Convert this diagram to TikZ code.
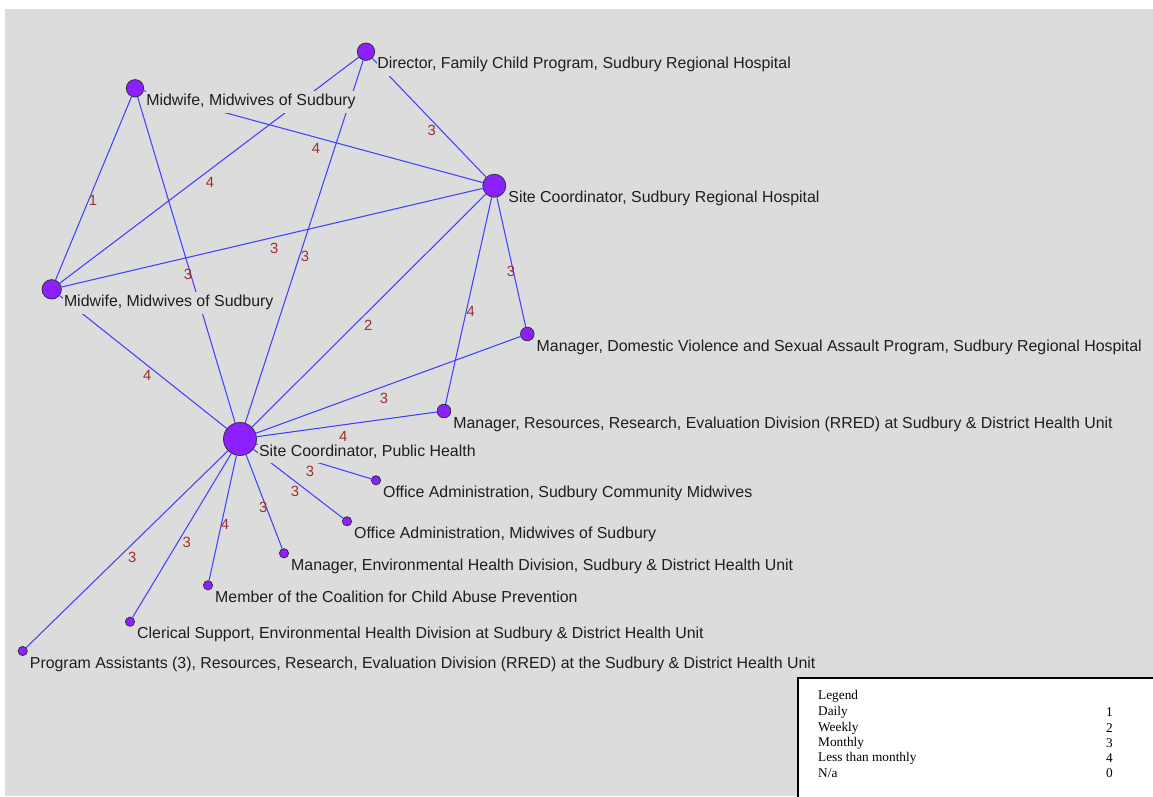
\documentclass[tikz,border=0pt]{standalone}
\usepackage{fontspec}
\setmainfont{Liberation Sans}
\newfontfamily\legendfont{Liberation Serif}
\definecolor{bg}{RGB}{220,220,220}
\definecolor{nodefill}{RGB}{140,32,255}
\definecolor{linkblue}{RGB}{64,64,255}
\definecolor{labred}{RGB}{160,45,45}
\definecolor{txt}{RGB}{30,30,30}
\begin{document}
\begin{tikzpicture}[x=1pt,y=-1pt,
  vert/.style={circle, draw=black!80, line width=0.8pt, fill=nodefill, inner sep=0pt, minimum size=#1},
  link/.style={draw=linkblue, line width=1.05pt},
  elab/.style={text=labred, font=\fontsize{14.8}{16}\selectfont, inner sep=0pt},
  nlab/.style={anchor=west, fill=bg, inner xsep=0.8pt, inner ysep=3.5pt, text height=11.5pt, text depth=3.5pt, font=\fontsize{15.9}{17}\selectfont, text=txt},
  lgd/.style={anchor=west, inner sep=0pt, font=\legendfont\fontsize{13.3}{15}\selectfont, text=black}]
\useasboundingbox (0,0) rectangle (1153,796);
\fill[white] (0,0) rectangle (1153,796);
\fill[bg] (5,9) rectangle (1153,796);

% vertices
\node[vert=17.4pt] (D) at (366,51.7) {};
\node[vert=17.4pt] (M1) at (135,88.3) {};
\node[vert=23pt] (S) at (494.3,185.7) {};
\node[vert=19.4pt] (M2) at (51.7,289.3) {};
\node[vert=13.6pt] (DV) at (527.3,334) {};
\node[vert=13.6pt] (RR) at (444,411) {};
\node[vert=33pt] (P) at (240,439) {};
\node[vert=9.2pt] (OA1) at (376,480.3) {};
\node[vert=9.2pt] (OA2) at (347,521.3) {};
\node[vert=9.2pt] (ME) at (284,553.3) {};
\node[vert=9.2pt] (MC) at (208,585.3) {};
\node[vert=9.2pt] (CS) at (130,621.7) {};
\node[vert=9.2pt] (PA) at (22.7,651) {};

% links
\draw[link] (M1) -- (M2);
\draw[link] (M1) -- (P);
\draw[link] (M2) -- (D);
\draw[link] (M1) -- (S);
\draw[link] (D) -- (S);
\draw[link] (D) -- (P);
\draw[link] (M2) -- (S);
\draw[link] (M2) -- (P);
\draw[link] (S) -- (P);
\draw[link] (S) -- (RR);
\draw[link] (S) -- (DV);
\draw[link] (P) -- (DV);
\draw[link] (P) -- (RR);
\draw[link] (P) -- (OA1);
\draw[link] (P) -- (OA2);
\draw[link] (P) -- (ME);
\draw[link] (P) -- (MC);
\draw[link] (P) -- (CS);
\draw[link] (P) -- (PA);

% link labels
\node[elab] (e1) at (93,200) {1};
\node[elab] (e2) at (188,274.5) {3};
\node[elab] (e3) at (210,182) {4};
\node[elab] (e4) at (316,148) {4};
\node[elab] (e5) at (431.7,130) {3};
\node[elab] (e6) at (305,256) {3};
\node[elab] (e7) at (274.3,248) {3};
\node[elab] (e8) at (147.3,375) {4};
\node[elab] (e9) at (368.3,325) {2};
\node[elab] (e10) at (470.7,311) {4};
\node[elab] (e11) at (511,271.5) {3};
\node[elab] (e12) at (384,398) {3};
\node[elab] (e13) at (343.3,436) {4};
\node[elab] (e14) at (310,471) {3};
\node[elab] (e15) at (295,491.5) {3};
\node[elab] (e16) at (263.3,507.5) {3};
\node[elab] (e17) at (225,524) {4};
\node[elab] (e18) at (186.7,542) {3};
\node[elab] (e19) at (132.3,557) {3};

% vertex labels
\node[nlab] (Dl) at (376.3,64.9) {Director, Family Child Program, Sudbury Regional Hospital};
\node[nlab] (M1l) at (145.3,101.5) {Midwife, Midwives of Sudbury};
\node[nlab] (Sl) at (507.4,198.9) {Site Coordinator, Sudbury Regional Hospital};
\node[nlab] (M2l) at (63,302.5) {Midwife, Midwives of Sudbury};
\node[nlab] (DVl) at (535.7,347.2) {Manager, Domestic Violence and Sexual Assault Program, Sudbury Regional Hospital};
\node[nlab] (RRl) at (452.4,424.2) {Manager, Resources, Research, Evaluation Division (RRED) at Sudbury \& District Health Unit};
\node[nlab] (Pl) at (258.1,452.2) {Site Coordinator, Public Health};
\node[nlab] (OA1l) at (382.2,493.5) {Office Administration, Sudbury Community Midwives};
\node[nlab] (OA2l) at (353.2,534.5) {Office Administration, Midwives of Sudbury};
\node[nlab] (MEl) at (290.2,566.5) {Manager, Environmental Health Division, Sudbury \& District Health Unit};
\node[nlab] (MCl) at (214.2,598.5) {Member of the Coalition for Child Abuse Prevention};
\node[nlab] (CSl) at (136.2,634.9) {Clerical Support, Environmental Health Division at Sudbury \& District Health Unit};
\node[nlab] (PAl) at (28.9,664.2) {Program Assistants (3), Resources, Research, Evaluation Division (RRED) at the Sudbury \& District Health Unit};

% legend
\draw[fill=white, draw=black, line width=2pt] (798,678) rectangle (1165,810);
\node[lgd] (lg0) at (818,696.5) {Legend};
\node[lgd] (lg1) at (818,712.5) {Daily};
\node[lgd] (lg2) at (818,728) {Weekly};
\node[lgd] (lg3) at (818,743.5) {Monthly};
\node[lgd] (lg4) at (818,758.5) {Less than monthly};
\node[lgd] (lg5) at (818,773.5) {N/a};
\node[lgd] (lv1) at (1106,712.5) {1};
\node[lgd] (lv2) at (1106,728) {2};
\node[lgd] (lv3) at (1106,743.5) {3};
\node[lgd] (lv4) at (1106,758.5) {4};
\node[lgd] (lv5) at (1106,773.5) {0};
\end{tikzpicture}
\end{document}
